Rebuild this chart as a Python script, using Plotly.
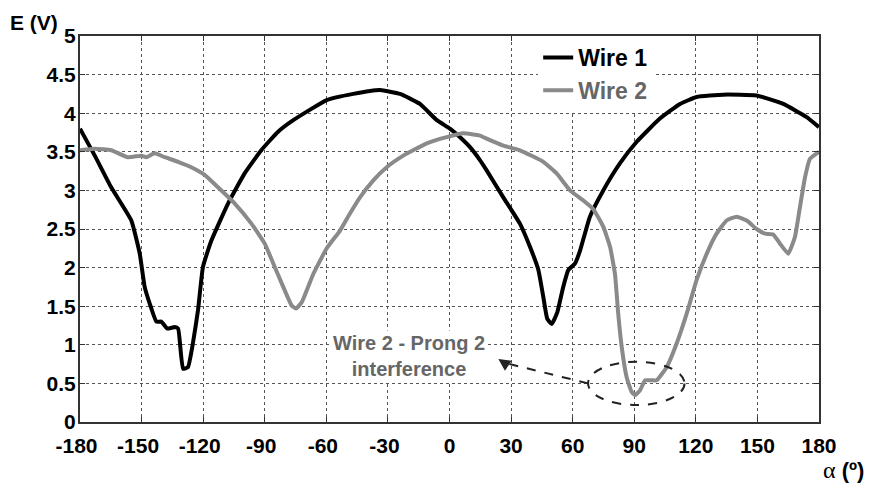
import plotly.graph_objects as go

wire1_x = [-180, -172.8, -164.8, -155, -150.9, -148.5, -146, -142.8, -140.4, -137.5, -133.9, -132.2,
           -129.8, -127.4, -125, -122.5, -120.1, -116, -107.9, -99.8, -91.7, -83.5, -76.1, -59.8,
           -46.9, -33.9, -24.1, -14.4, -6.2, 0.2, 6.7, 10, 14.9, 18.1, 26.2, 34.3, 39.2, 43.3,
           45.7, 47.6, 49.8, 52.5, 55.4, 57.9, 61.1, 63.6, 68.4, 74.9, 83, 91.2, 102.5, 112.3,
           120.4, 133.4, 149.6, 162.6, 174, 180]
wire1_y = [3.80, 3.45, 3.04, 2.61, 2.18, 1.75, 1.53, 1.30, 1.30, 1.21, 1.23, 1.21,
           0.69, 0.71, 1.02, 1.45, 2.01, 2.35, 2.83, 3.22, 3.52, 3.76, 3.91, 4.17,
           4.25, 4.30, 4.25, 4.12, 3.91, 3.80, 3.65, 3.56, 3.39, 3.26, 2.91, 2.57, 2.27, 1.97,
           1.62, 1.34, 1.27, 1.42, 1.75, 1.97, 2.05, 2.22, 2.66, 3.00, 3.35, 3.63, 3.93, 4.12,
           4.21, 4.24, 4.23, 4.12, 3.95, 3.82]

wire2_x = [-180, -172.8, -164.8, -156.7, -150.1, -147.7, -143.6, -138.7, -132.2, -125.8, -119.3,
           -112.8, -104.6, -96.5, -90, -85.8, -81, -76.9, -74.8, -72, -66.3, -59.8, -53.3, -48.5,
           -43.6, -37.1, -30.6, -22.5, -11.1, -1.4, 6.7, 14.9, 18.1, 26.2, 34.3, 45.7, 52.2, 58.7,
           65.2, 70, 74.9, 78.2, 80.6, 82.2, 83.9, 86.3, 88.7, 90.4, 92.8, 95.3, 98.5, 100.9,
           105.8, 110.7, 115.5, 120.4, 125.3, 130.1, 135, 139.9, 144.8, 149.6, 153.7, 157.7,
           161, 165, 168.3, 170.7, 173.2, 175.6, 180]
wire2_y = [3.52, 3.54, 3.52, 3.43, 3.45, 3.43, 3.48, 3.43, 3.37, 3.30, 3.20,
           3.04, 2.83, 2.57, 2.31, 2.05, 1.75, 1.51, 1.47, 1.55, 1.92, 2.25, 2.48, 2.70,
           2.91, 3.13, 3.30, 3.45, 3.61, 3.69, 3.74, 3.71, 3.67, 3.58, 3.52, 3.37, 3.22, 3.00,
           2.87, 2.76, 2.53, 2.27, 1.92, 1.40, 0.97, 0.58, 0.39, 0.35, 0.41, 0.54, 0.54, 0.54,
           0.71, 1.02, 1.40, 1.84, 2.18, 2.44, 2.61, 2.66, 2.61, 2.50, 2.44, 2.43,
           2.31, 2.18, 2.40, 2.78, 3.17, 3.41, 3.50]

x_ticks = [-180, -150, -120, -90, -60, -30, 0, 30, 60, 90, 120, 150, 180]
y_ticks = [0, 0.5, 1, 1.5, 2, 2.5, 3, 3.5, 4, 4.5, 5]
y_labels = ["0", "0.5", "1", "1.5", "2", "2.5", "3", "3.5", "4", "4.5", "5"]

ellipse_x = [67.5, 114.5]
ellipse_y = [0.22, 0.78]
arrow_tail = (67.5, 0.5)
arrow_tip = (23.8, 0.815)

GRAY = "#8a8a8a"
TEXTGRAY = "#666666"
FONT = "Liberation Sans, Arial, sans-serif"


def x_label(v):
    # digits centred on the tick, the minus sign hanging to the left
    if v < 0:
        return "%d<span style='color:rgba(0,0,0,0)'>-</span>" % v
    return str(v)


fig = go.Figure()
fig.add_trace(go.Scatter(x=wire1_x, y=wire1_y, mode="lines", name="Wire 1",
                         line=dict(color="black", width=4, shape="spline", smoothing=0.4)))
fig.add_trace(go.Scatter(x=wire2_x, y=wire2_y, mode="lines",
                         name="<span style='color:%s'>Wire 2</span>" % TEXTGRAY,
                         line=dict(color=GRAY, width=4, shape="spline", smoothing=0.4)))

axis_common = dict(showline=True, mirror="ticks", linecolor="#333", linewidth=2,
                   showgrid=True, gridcolor="#555", gridwidth=1, griddash="dot",
                   ticks="inside", ticklen=5, tickcolor="#333", tickwidth=1,
                   zeroline=False,
                   tickfont=dict(family=FONT, size=21, color="black", weight="bold"))

fig.update_xaxes(range=[-180, 180], tickvals=x_ticks, ticktext=[x_label(v) for v in x_ticks],
                 ticklabelstandoff=4, **axis_common)
fig.update_yaxes(range=[0, 5], tickvals=y_ticks, ticktext=y_labels,
                 ticklabelstandoff=-2, **axis_common)

fig.add_shape(type="circle", xref="x", yref="y",
              x0=ellipse_x[0], x1=ellipse_x[1], y0=ellipse_y[0], y1=ellipse_y[1],
              line=dict(color="#222", width=2, dash="dash"))
fig.add_shape(type="line", xref="x", yref="y",
              x0=arrow_tail[0], y0=arrow_tail[1], x1=arrow_tip[0] + 2.5, y1=arrow_tip[1] - 0.045,
              line=dict(color="#222", width=2, dash="dash"))
fig.add_annotation(x=arrow_tip[0], y=arrow_tip[1], ax=arrow_tip[0] + 4, ay=arrow_tip[1] - 0.072,
                   xref="x", yref="y", axref="x", ayref="y", text="", showarrow=True,
                   arrowhead=2, arrowsize=1.2, arrowwidth=2, arrowcolor="#222")

fig.add_annotation(x=-19.5, y=0.86, xref="x", yref="y",
                   text="Wire 2 - Prong 2<br>interference", showarrow=False,
                   font=dict(family=FONT, size=20, color=TEXTGRAY, weight="bold"),
                   bgcolor="white", align="center")

fig.add_annotation(x=-0.062, y=1.034, xref="paper", yref="paper", text="E (V)",
                   showarrow=False, xanchor="center", yanchor="middle",
                   font=dict(family=FONT, size=21, color="black", weight="bold"))
fig.add_annotation(x=1.062, y=-0.161, xref="paper", yref="paper",
                   text="<span style='font-family:Liberation Serif, serif;font-weight:normal;font-size:24px'>α</span> (º)",
                   showarrow=False, xanchor="right", yanchor="bottom", borderpad=0,
                   font=dict(family=FONT, size=22, color="black", weight="bold"))

fig.update_layout(
    width=869, height=484,
    margin=dict(l=80, r=50, t=36, b=62),
    plot_bgcolor="white", paper_bgcolor="white",
    showlegend=True,
    legend=dict(x=0.62, y=1.0, xanchor="left", yanchor="top",
                bgcolor="white", borderwidth=0,
                font=dict(family=FONT, size=23, color="black", weight="bold"),
                tracegroupgap=0, itemwidth=30),
)

fig.write_html("out.html")
